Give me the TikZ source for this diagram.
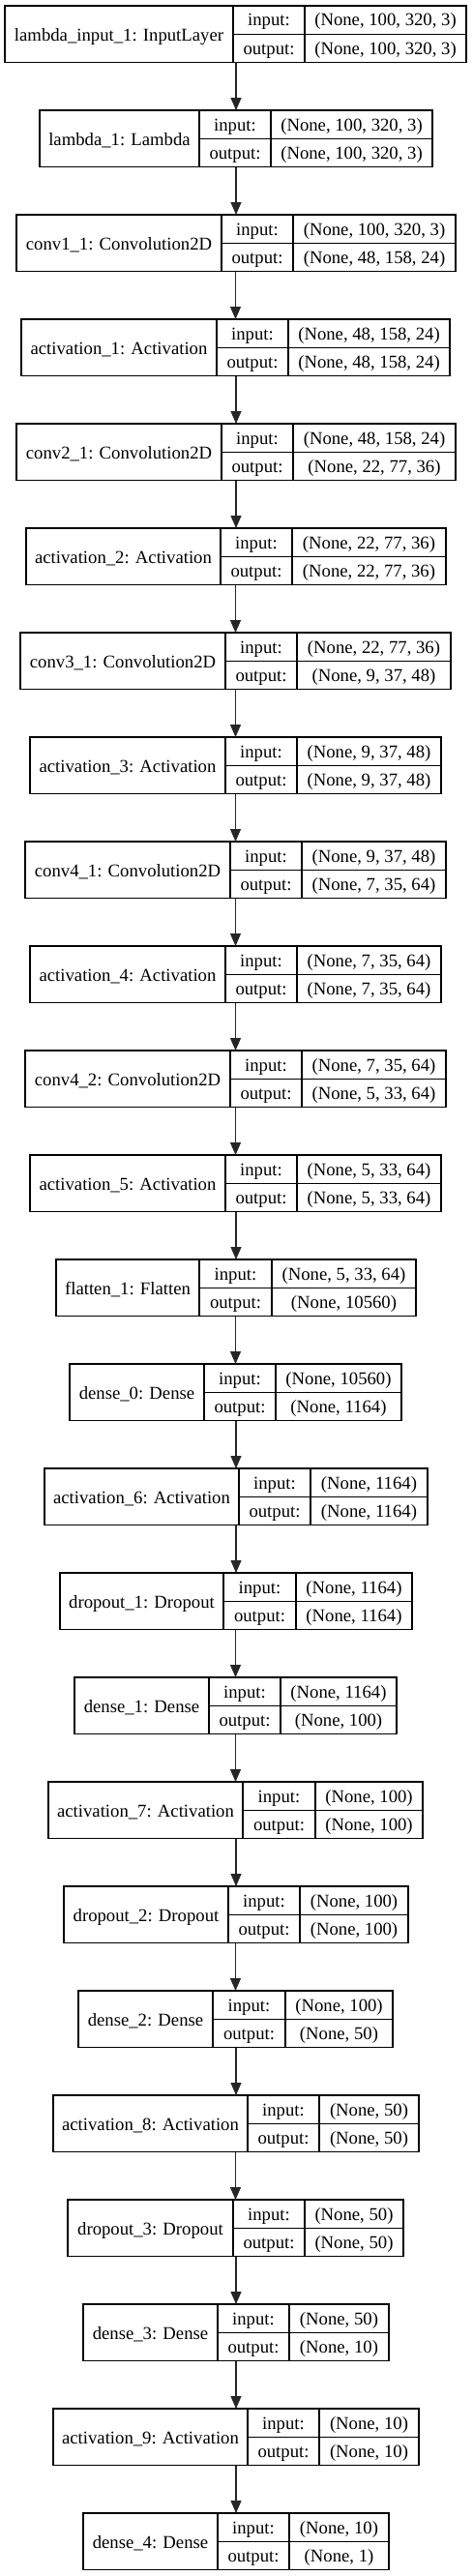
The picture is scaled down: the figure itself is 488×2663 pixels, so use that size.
\documentclass[tikz,border=0pt]{standalone}
\usepackage{fontspec}
\setmainfont{Liberation Serif}
\usetikzlibrary{arrows.meta}
\tikzset{
  layerbox/.style={draw=black, line width=1.1pt, rectangle, inner sep=0pt, outer sep=0pt, minimum height=58.5pt},
  cellline/.style={draw=black, line width=1.1pt},
  celltext/.style={anchor=base, inner sep=0pt, font=\fontsize{18.7}{22}\selectfont},
  arr/.style={draw=black!85, line width=1.1pt, -{Triangle[length=13pt,width=11pt]}}
}
% #1 row, #2 left, #3 first divider, #4 second divider, #5 right, #6 label, #7 input shape, #8 output shape
\newcommand\klayer[8]{%
  \pgfmathsetmacro\kt{-(6+108*#1)}%
  \pgfmathsetmacro\kb{\kt-58.5}%
  \pgfmathsetmacro\km{\kt-29.3}%
  \node[layerbox, minimum width={(#5-#2)*1pt}, anchor=north west] (n#1) at (#2,\kt) {};
  \draw[cellline] (#3,\kt) -- (#3,\kb) (#4,\kt) -- (#4,\kb) (#3,\km) -- (#5,\km);
  \node[celltext] (n#1name) at ({(#2+#3)/2},\kt-36.5) {#6};
  \node[celltext] (n#1ik) at ({(#3+#4)/2},\kt-21) {input:};
  \node[celltext] (n#1ok) at ({(#3+#4)/2},\kt-50.2) {output:};
  \node[celltext] (n#1iv) at ({(#4+#5)/2},\kt-21) {#7};
  \node[celltext] (n#1ov) at ({(#4+#5)/2},\kt-50.2) {#8};
}
\begin{document}
\begin{tikzpicture}[x=1pt,y=1pt]
\fill[white] (0,0) rectangle (488,-2663);
\useasboundingbox (0,0) rectangle (488,-2663);
\klayer{0}{5}{241}{315}{482}{lambda\_input\_1: InputLayer}{(None, 100, 320, 3)}{(None, 100, 320, 3)}
\klayer{1}{41}{206}{280}{447}{lambda\_1: Lambda}{(None, 100, 320, 3)}{(None, 100, 320, 3)}
\klayer{2}{17}{229}{303}{471}{conv1\_1: Convolution2D}{(None, 100, 320, 3)}{(None, 48, 158, 24)}
\klayer{3}{22}{224}{298}{465}{activation\_1: Activation}{(None, 48, 158, 24)}{(None, 48, 158, 24)}
\klayer{4}{17}{229}{303}{471}{conv2\_1: Convolution2D}{(None, 48, 158, 24)}{(None, 22, 77, 36)}
\klayer{5}{27}{228}{302}{461}{activation\_2: Activation}{(None, 22, 77, 36)}{(None, 22, 77, 36)}
\klayer{6}{21}{233}{307}{466}{conv3\_1: Convolution2D}{(None, 22, 77, 36)}{(None, 9, 37, 48)}
\klayer{7}{31}{233}{307}{456}{activation\_3: Activation}{(None, 9, 37, 48)}{(None, 9, 37, 48)}
\klayer{8}{26}{238}{312}{461}{conv4\_1: Convolution2D}{(None, 9, 37, 48)}{(None, 7, 35, 64)}
\klayer{9}{31}{233}{307}{456}{activation\_4: Activation}{(None, 7, 35, 64)}{(None, 7, 35, 64)}
\klayer{10}{26}{238}{312}{461}{conv4\_2: Convolution2D}{(None, 7, 35, 64)}{(None, 5, 33, 64)}
\klayer{11}{31}{233}{307}{456}{activation\_5: Activation}{(None, 5, 33, 64)}{(None, 5, 33, 64)}
\klayer{12}{58}{206}{281}{430}{flatten\_1: Flatten}{(None, 5, 33, 64)}{(None, 10560)}
\klayer{13}{72}{211}{285}{415}{dense\_0: Dense}{(None, 10560)}{(None, 1164)}
\klayer{14}{46}{247}{321}{442}{activation\_6: Activation}{(None, 1164)}{(None, 1164)}
\klayer{15}{62}{231}{306}{426}{dropout\_1: Dropout}{(None, 1164)}{(None, 1164)}
\klayer{16}{77}{216}{290}{410}{dense\_1: Dense}{(None, 1164)}{(None, 100)}
\klayer{17}{50}{251}{326}{437}{activation\_7: Activation}{(None, 100)}{(None, 100)}
\klayer{18}{66}{236}{310}{422}{dropout\_2: Dropout}{(None, 100)}{(None, 100)}
\klayer{19}{81}{220}{295}{406}{dense\_2: Dense}{(None, 100)}{(None, 50)}
\klayer{20}{55}{256}{330}{433}{activation\_8: Activation}{(None, 50)}{(None, 50)}
\klayer{21}{70}{241}{315}{417}{dropout\_3: Dropout}{(None, 50)}{(None, 50)}
\klayer{22}{86}{225}{299}{402}{dense\_3: Dense}{(None, 50)}{(None, 10)}
\klayer{23}{55}{256}{330}{433}{activation\_9: Activation}{(None, 10)}{(None, 10)}
\klayer{24}{86}{225}{299}{402}{dense\_4: Dense}{(None, 10)}{(None, 1)}
\foreach \i [evaluate=\i as \j using int(\i+1)] in {0,...,23}
  \draw[arr] (n\i.south -| n\j.north) -- (n\j.north);
\end{tikzpicture}
\end{document}
